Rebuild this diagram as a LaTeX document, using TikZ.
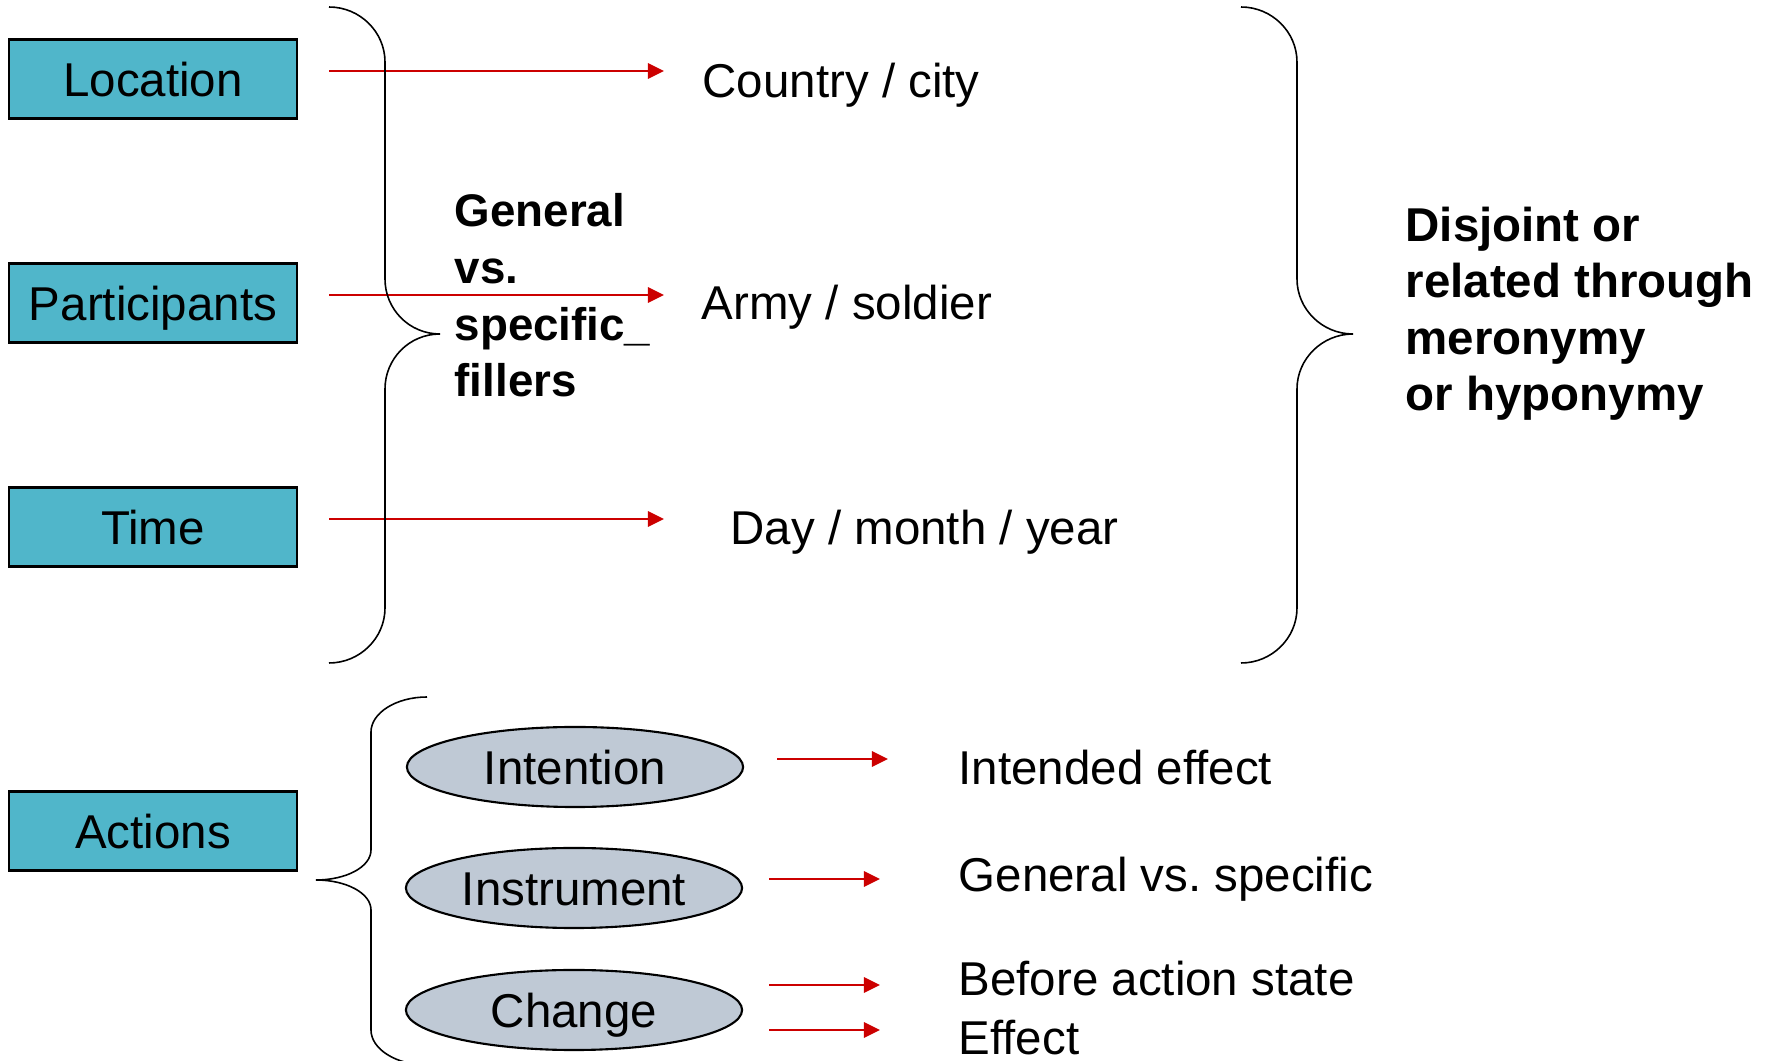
\documentclass[tikz,border=0pt]{standalone}
\usepackage{fontspec}
\setmainfont{Liberation Sans}
\usepackage{tikz}
\usetikzlibrary{arrows.meta}
\usetikzlibrary{shapes.geometric}
\usepackage{xcolor}
\definecolor{boxteal}{RGB}{80,182,202}
\definecolor{ovalgray}{RGB}{191,201,213}
\definecolor{arrred}{RGB}{204,0,0}
\tikzstyle{box}=[draw,line width=0.6pt,fill=boxteal,minimum width=2.88cm,minimum height=0.79cm,inner sep=0pt,text height=9.7pt,text depth=0pt,font=\fontsize{13.5}{16.2}\selectfont]
\tikzstyle{oval}=[ellipse,draw,line width=0.6pt,fill=ovalgray,minimum width=3.36cm,minimum height=0.8cm,inner sep=0pt,text height=9.7pt,text depth=0pt,font=\fontsize{13.5}{16.2}\selectfont]
\tikzstyle{txt}=[anchor=base west,inner sep=0pt,font=\fontsize{13.5}{16.2}\selectfont]
\tikzstyle{redarr}=[draw=arrred,line width=0.5pt,-{Triangle[length=4.6pt,width=4.4pt]}]
\tikzstyle{brace}=[line width=0.45pt]
\frenchspacing

\begin{document}
\begin{tikzpicture}[x=0.01cm,y=-0.01cm]
\useasboundingbox (0,0) rectangle (1771,1061);

% slots
\node[box] (loc) at (153,79) {Location};
\node[box] (part) at (153,303) {Participants};
\node[box] (time) at (153,527) {Time};
\node[box] (act) at (153,831) {Actions};

% fillers
\node[txt] (country) at (702,98) {Country / city};
\node[txt] (army) at (701,320) {Army / soldier};
\node[txt] (day) at (730,545) {Day / month / year};

\coordinate (locS) at (329,71);
\coordinate (locE) at (664,71);
\coordinate (partS) at (329,295);
\coordinate (partE) at (664,295);
\coordinate (timeS) at (329,519);
\coordinate (timeE) at (664,519);
\draw[redarr] (locS)--(locE);
\draw[redarr] (partS)--(partE);
\draw[redarr] (timeS)--(timeE);

% braces
\draw[brace] (329,7) .. controls +(31,0) and +(0,-30) .. (385,62) -- (385,279)
  .. controls +(0,30) and +(-31,0) .. (440,334)
  .. controls +(-31,0) and +(0,-30) .. (385,389) -- (385,608)
  .. controls +(0,30) and +(31,0) .. (329,663);
\draw[brace] (1241,7) .. controls +(31,0) and +(0,-30) .. (1297,62) -- (1297,279)
  .. controls +(0,30) and +(-31,0) .. (1353,334)
  .. controls +(-31,0) and +(0,-30) .. (1297,389) -- (1297,608)
  .. controls +(0,30) and +(31,0) .. (1241,663);

% base = last line
\node[txt,align=left,font=\bfseries\fontsize{13}{16.2}\selectfont] (gen) at (454,397) {General\\vs.\\specific\_\\fillers};
\node[txt,align=left,font=\bfseries\fontsize{13.5}{16.1}\selectfont] (disj) at (1405,411) {Disjoint or\\related through\\meronymy\\or hyponymy};

% actions
\draw[brace] (427,697) .. controls +(-31,0) and +(0,-19) .. (371,732) -- (371,850)
  .. controls +(0,17) and +(30,0) .. (316,880)
  .. controls +(30,0) and +(0,-17) .. (371,910) -- (371,1030)
  .. controls +(0,19) and +(-31,0) .. (427,1065);

\node[oval] (int) at (575,767) {Intention};
\node[oval] (ins) at (574,888) {Instrument};
\node[oval] (chg) at (574,1010) {Change};

\node[txt] (inteff) at (958,785) {Intended effect};
\node[txt] (genspec) at (958,892) {General vs. specific};
\node[txt] (before) at (958,996) {Before action state};
\node[txt] (effect) at (958,1055) {Effect};

\coordinate (intS) at (777,759);
\coordinate (intE) at (888,759);
\coordinate (insS) at (769,879);
\coordinate (insE) at (880,879);
\coordinate (chgS) at (769,985);
\coordinate (chgE) at (880,985);
\coordinate (chgS2) at (769,1030);
\coordinate (chgE2) at (880,1030);
\draw[redarr] (intS)--(intE);
\draw[redarr] (insS)--(insE);
\draw[redarr] (chgS)--(chgE);
\draw[redarr] (chgS2)--(chgE2);
\end{tikzpicture}
\end{document}
